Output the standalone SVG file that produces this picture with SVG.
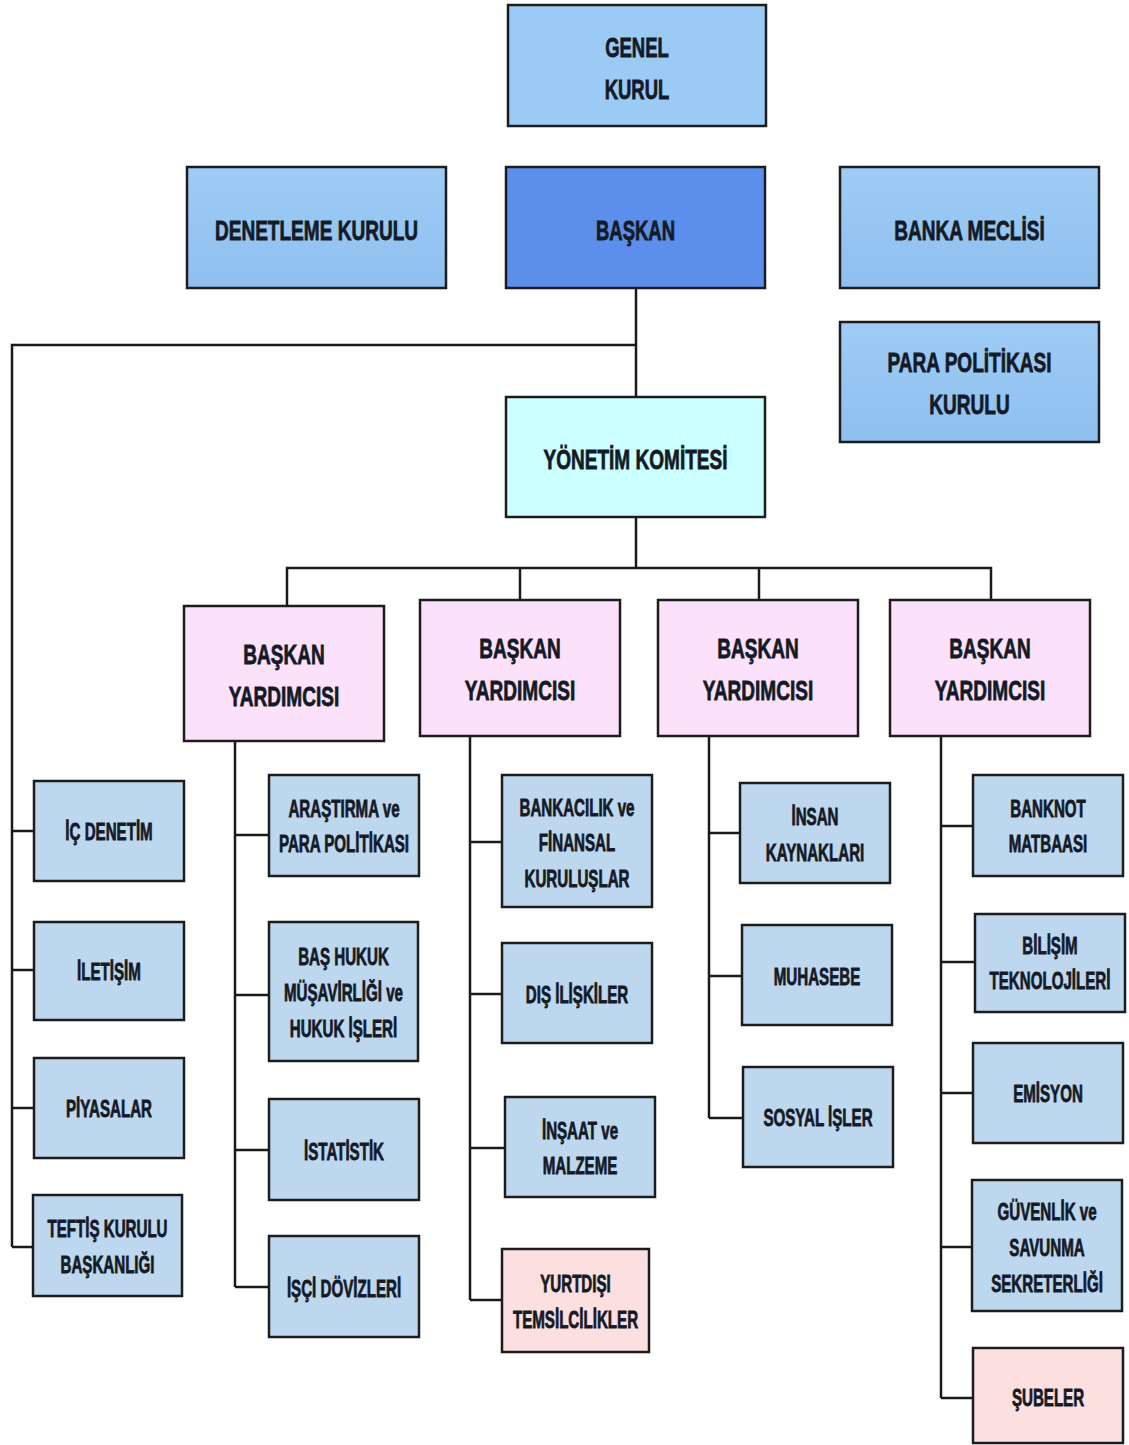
<svg xmlns="http://www.w3.org/2000/svg" width="1129" height="1445" viewBox="0 0 1129 1445">
<defs>
<linearGradient id="gTop" x1="0" y1="0" x2="0" y2="1">
<stop offset="0" stop-color="#9ECCF5"/><stop offset="1" stop-color="#8FBFF0"/>
</linearGradient>
<style>
rect{stroke:#1c1c1c;stroke-width:2.5}
.lb{fill:#BDD7EF}
.pk{fill:#FCDFDF}
.by{fill:#FCE1FA}
.gk{fill:#9BCBF5}
.bs{fill:#5C8FEB}
.sd{fill:url(#gTop)}
.yk{fill:#CCFFFF}
text{font-family:"Liberation Sans",Arial,sans-serif;font-weight:bold;fill:#141a26;stroke:#141a26;stroke-width:0.8;text-anchor:middle}
.big{font-size:28px}
.sm{font-size:24px}
.conn path{fill:none;stroke:#1a1a1a;stroke-width:2.5}
</style>
</defs>
<rect x="0" y="0" width="1129" height="1445" fill="#ffffff" style="stroke:none"/>

<g class="conn" id="connectors">
<path d="M636 288 V397"/>
<path d="M636 345 H12 V1247"/>
<path d="M636 517 V568"/>
<path d="M287 606 V568 H991 V600"/>
<path d="M520 568 V600"/>
<path d="M759 568 V600"/>
<path d="M12 831 H34 M12 970 H34 M12 1108 H34 M12 1247 H33"/>
<path d="M235 741 V1287"/>
<path d="M235 835 H269 M235 995 H269 M235 1150 H269 M235 1287 H269"/>
<path d="M470 736 V1300"/>
<path d="M470 842 H502 M470 994 H502 M470 1148 H505 M470 1300 H502"/>
<path d="M709 736 V1118"/>
<path d="M709 833 H740 M709 976 H742 M709 1118 H743"/>
<path d="M941 736 V1398"/>
<path d="M941 826 H973 M941 962 H975 M941 1093 H973 M941 1247 H972 M941 1398 H973"/>
</g>

<g id="genel-kurul"><rect class="gk" x="508" y="5" width="258" height="121"/>
<text class="big" transform="translate(637,0) scale(0.66,1)"><tspan x="0" y="57">GENEL</tspan><tspan x="0" y="99">KURUL</tspan></text></g>

<g id="denetleme-kurulu"><rect class="sd" x="187" y="167" width="259" height="121"/>
<text class="big" transform="translate(316.5,0) scale(0.68,1)"><tspan x="0" y="240">DENETLEME KURULU</tspan></text></g>

<g id="baskan"><rect class="bs" x="506" y="167" width="259" height="121"/>
<text class="big" transform="translate(635.5,0) scale(0.66,1)"><tspan x="0" y="240">BAŞKAN</tspan></text></g>

<g id="banka-meclisi"><rect class="sd" x="840" y="167" width="259" height="121"/>
<text class="big" transform="translate(969.5,0) scale(0.68,1)"><tspan x="0" y="240">BANKA MECLİSİ</tspan></text></g>

<g id="para-politikasi-kurulu"><rect class="sd" x="840" y="322" width="259" height="120"/>
<text class="big" transform="translate(969.5,0) scale(0.68,1)"><tspan x="0" y="372">PARA POLİTİKASI</tspan><tspan x="0" y="414">KURULU</tspan></text></g>

<g id="yonetim-komitesi"><rect class="yk" x="506" y="397" width="259" height="120"/>
<text class="big" transform="translate(635.5,0) scale(0.68,1)"><tspan x="0" y="469">YÖNETİM KOMİTESİ</tspan></text></g>

<g id="by1"><rect class="by" x="184" y="606" width="200" height="135"/>
<text class="big" transform="translate(284,0) scale(0.68,1)"><tspan x="0" y="664">BAŞKAN</tspan><tspan x="0" y="706">YARDIMCISI</tspan></text></g>
<g id="by2"><rect class="by" x="420" y="600" width="200" height="136"/>
<text class="big" transform="translate(520,0) scale(0.68,1)"><tspan x="0" y="658">BAŞKAN</tspan><tspan x="0" y="700">YARDIMCISI</tspan></text></g>
<g id="by3"><rect class="by" x="658" y="600" width="200" height="136"/>
<text class="big" transform="translate(758,0) scale(0.68,1)"><tspan x="0" y="658">BAŞKAN</tspan><tspan x="0" y="700">YARDIMCISI</tspan></text></g>
<g id="by4"><rect class="by" x="890" y="600" width="200" height="136"/>
<text class="big" transform="translate(990,0) scale(0.68,1)"><tspan x="0" y="658">BAŞKAN</tspan><tspan x="0" y="700">YARDIMCISI</tspan></text></g>

<g id="ic-denetim"><rect class="lb" x="34" y="781" width="150" height="100"/>
<text class="sm" transform="translate(109,0) scale(0.63,1)"><tspan x="0" y="840">İÇ DENETİM</tspan></text></g>
<g id="iletisim"><rect class="lb" x="34" y="922" width="150" height="98"/>
<text class="sm" transform="translate(109,0) scale(0.63,1)"><tspan x="0" y="980">İLETİŞİM</tspan></text></g>
<g id="piyasalar"><rect class="lb" x="34" y="1058" width="150" height="100"/>
<text class="sm" transform="translate(109,0) scale(0.63,1)"><tspan x="0" y="1117">PİYASALAR</tspan></text></g>
<g id="teftis"><rect class="lb" x="33" y="1195" width="149" height="101"/>
<text class="sm" transform="translate(107.5,0) scale(0.63,1)"><tspan x="0" y="1237">TEFTİŞ KURULU</tspan><tspan x="0" y="1273">BAŞKANLIĞI</tspan></text></g>

<g id="arastirma"><rect class="lb" x="269" y="775" width="150" height="101"/>
<text class="sm" transform="translate(344,0) scale(0.63,1)"><tspan x="0" y="817">ARAŞTIRMA ve</tspan><tspan x="0" y="852">PARA POLİTİKASI</tspan></text></g>
<g id="bas-hukuk"><rect class="lb" x="269" y="922" width="149" height="139"/>
<text class="sm" transform="translate(343.5,0) scale(0.63,1)"><tspan x="0" y="965">BAŞ HUKUK</tspan><tspan x="0" y="1001">MÜŞAVİRLİĞİ ve</tspan><tspan x="0" y="1037">HUKUK İŞLERİ</tspan></text></g>
<g id="istatistik"><rect class="lb" x="269" y="1099" width="150" height="101"/>
<text class="sm" transform="translate(344,0) scale(0.63,1)"><tspan x="0" y="1160">İSTATİSTİK</tspan></text></g>
<g id="isci-dovizleri"><rect class="lb" x="269" y="1236" width="150" height="101"/>
<text class="sm" transform="translate(344,0) scale(0.63,1)"><tspan x="0" y="1297">İŞÇİ DÖVİZLERİ</tspan></text></g>

<g id="bankacilik"><rect class="lb" x="502" y="775" width="150" height="132"/>
<text class="sm" transform="translate(577,0) scale(0.63,1)"><tspan x="0" y="816">BANKACILIK ve</tspan><tspan x="0" y="851">FİNANSAL</tspan><tspan x="0" y="887">KURULUŞLAR</tspan></text></g>
<g id="dis-iliskiler"><rect class="lb" x="502" y="943" width="150" height="100"/>
<text class="sm" transform="translate(577,0) scale(0.63,1)"><tspan x="0" y="1003">DIŞ İLİŞKİLER</tspan></text></g>
<g id="insaat"><rect class="lb" x="505" y="1097" width="150" height="100"/>
<text class="sm" transform="translate(580,0) scale(0.63,1)"><tspan x="0" y="1139">İNŞAAT ve</tspan><tspan x="0" y="1174">MALZEME</tspan></text></g>
<g id="yurtdisi"><rect class="pk" x="502" y="1249" width="147" height="103"/>
<text class="sm" transform="translate(575.5,0) scale(0.63,1)"><tspan x="0" y="1292">YURTDIŞI</tspan><tspan x="0" y="1328">TEMSİLCİLİKLER</tspan></text></g>

<g id="insan-kaynaklari"><rect class="lb" x="740" y="783" width="150" height="100"/>
<text class="sm" transform="translate(815,0) scale(0.63,1)"><tspan x="0" y="825">İNSAN</tspan><tspan x="0" y="861">KAYNAKLARI</tspan></text></g>
<g id="muhasebe"><rect class="lb" x="742" y="925" width="150" height="100"/>
<text class="sm" transform="translate(817,0) scale(0.63,1)"><tspan x="0" y="985">MUHASEBE</tspan></text></g>
<g id="sosyal-isler"><rect class="lb" x="743" y="1067" width="150" height="100"/>
<text class="sm" transform="translate(818,0) scale(0.63,1)"><tspan x="0" y="1126">SOSYAL İŞLER</tspan></text></g>

<g id="banknot"><rect class="lb" x="973" y="775" width="150" height="101"/>
<text class="sm" transform="translate(1048,0) scale(0.63,1)"><tspan x="0" y="817">BANKNOT</tspan><tspan x="0" y="852">MATBAASI</tspan></text></g>
<g id="bilisim"><rect class="lb" x="975" y="914" width="150" height="98"/>
<text class="sm" transform="translate(1050,0) scale(0.63,1)"><tspan x="0" y="954">BİLİŞİM</tspan><tspan x="0" y="989">TEKNOLOJİLERİ</tspan></text></g>
<g id="emisyon"><rect class="lb" x="973" y="1043" width="150" height="100"/>
<text class="sm" transform="translate(1048,0) scale(0.63,1)"><tspan x="0" y="1102">EMİSYON</tspan></text></g>
<g id="guvenlik"><rect class="lb" x="972" y="1180" width="150" height="131"/>
<text class="sm" transform="translate(1047,0) scale(0.63,1)"><tspan x="0" y="1220">GÜVENLİK ve</tspan><tspan x="0" y="1256">SAVUNMA</tspan><tspan x="0" y="1292">SEKRETERLİĞİ</tspan></text></g>
<g id="subeler"><rect class="pk" x="973" y="1348" width="150" height="95"/>
<text class="sm" transform="translate(1048,0) scale(0.63,1)"><tspan x="0" y="1406">ŞUBELER</tspan></text></g>
</svg>
